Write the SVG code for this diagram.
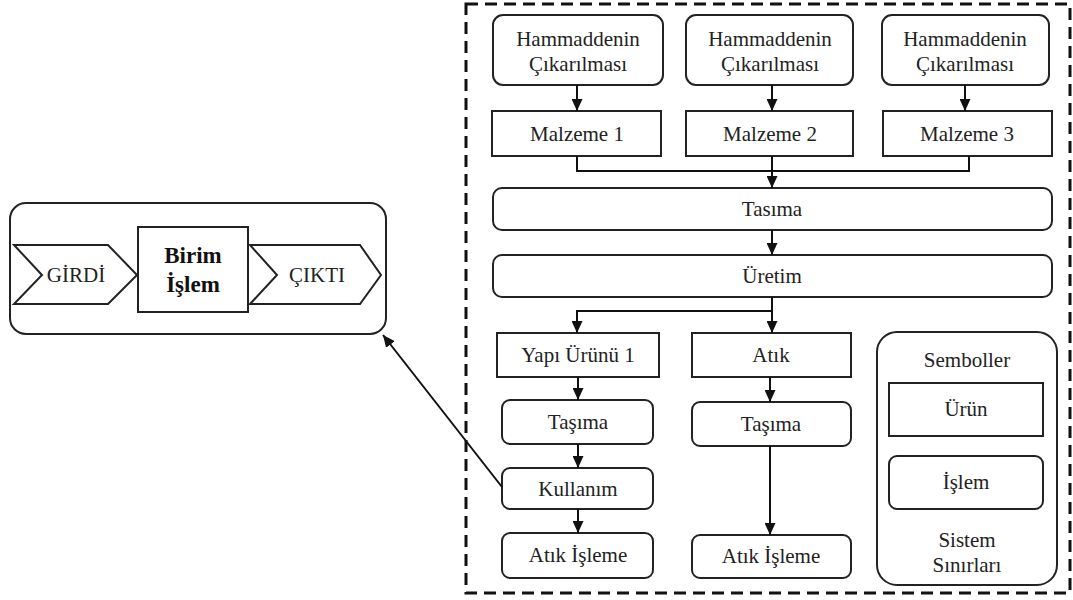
<svg xmlns="http://www.w3.org/2000/svg" width="1073" height="600" viewBox="0 0 1073 600" font-family="'Liberation Serif', 'DejaVu Serif', serif">
  <style>
    .box { fill: #fff; stroke: #222; stroke-width: 2; }
    .wire { fill: none; stroke: #111; stroke-width: 2; }
    text { font-family: 'Liberation Serif', 'DejaVu Serif', serif; font-size: 21px; fill: #222; text-anchor: middle; }
    text.bold { font-weight: bold; font-size: 23px; fill: #111; }
  </style>
  <defs>
    <marker id="arrow" viewBox="0 0 12 11" refX="12" refY="5.5" markerWidth="12" markerHeight="11" markerUnits="userSpaceOnUse" orient="auto">
      <path d="M0,0 L12,5.5 L0,11 Z" fill="#111"/>
    </marker>
  </defs>
  <rect width="1073" height="600" fill="#fff"/>

  <!-- unit process summary -->
  <g id="unit-process">
    <rect class="box" x="10" y="203" width="376" height="131" rx="16"/>
    <g id="girdi">
      <path class="box" d="M14,245 L108,245 L137,275 L108,304 L14,304 L42,275 Z"/>
      <text x="76" y="282">GİRDİ</text>
    </g>
    <g id="birim-islem">
      <rect class="box" x="138" y="227" width="110" height="85"/>
      <text class="bold" x="193" y="263">Birim</text>
      <text class="bold" x="193" y="292">İşlem</text>
    </g>
    <g id="cikti">
      <path class="box" d="M250,245 L360,245 L381,275 L360,304 L250,304 L277,275 Z"/>
      <text x="317" y="282">ÇIKTI</text>
    </g>
  </g>

  <!-- system boundary -->
  <rect id="system-boundary" x="466" y="4" width="604" height="589" fill="none" stroke="#111" stroke-width="3" stroke-dasharray="12 7"/>

  <!-- raw material extraction -->
  <g id="extract-1">
    <rect class="box" x="493" y="15" width="170" height="70" rx="10"/>
    <text x="578" y="46">Hammaddenin</text>
    <text x="578" y="71">Çıkarılması</text>
  </g>
  <g id="extract-2">
    <rect class="box" x="686" y="15" width="167" height="70" rx="10"/>
    <text x="770" y="46">Hammaddenin</text>
    <text x="770" y="71">Çıkarılması</text>
  </g>
  <g id="extract-3">
    <rect class="box" x="882" y="15" width="167" height="70" rx="10"/>
    <text x="965" y="46">Hammaddenin</text>
    <text x="965" y="71">Çıkarılması</text>
  </g>

  <!-- materials -->
  <g id="material-1">
    <rect class="box" x="492" y="111" width="169" height="45"/>
    <text x="577" y="141">Malzeme 1</text>
  </g>
  <g id="material-2">
    <rect class="box" x="686" y="111" width="167" height="45"/>
    <text x="770" y="141">Malzeme 2</text>
  </g>
  <g id="material-3">
    <rect class="box" x="883" y="111" width="169" height="45"/>
    <text x="967" y="141">Malzeme 3</text>
  </g>

  <g id="transport-main">
    <rect class="box" x="493" y="188" width="559" height="42" rx="9"/>
    <text x="772" y="216">Tasıma</text>
  </g>
  <g id="production">
    <rect class="box" x="493" y="255" width="559" height="42" rx="9"/>
    <text x="772" y="283">Üretim</text>
  </g>

  <!-- product branch -->
  <g id="product-1">
    <rect class="box" x="497" y="333" width="162" height="44"/>
    <text x="578" y="362">Yapı Ürünü 1</text>
  </g>
  <g id="transport-product">
    <rect class="box" x="502" y="400" width="151" height="44" rx="8"/>
    <text x="578" y="429">Taşıma</text>
  </g>
  <g id="use">
    <rect class="box" x="502" y="468" width="151" height="41" rx="8"/>
    <text x="578" y="496">Kullanım</text>
  </g>
  <g id="waste-treatment-1">
    <rect class="box" x="502" y="533" width="151" height="45" rx="8"/>
    <text x="578" y="562">Atık İşleme</text>
  </g>

  <!-- waste branch -->
  <g id="waste">
    <rect class="box" x="692" y="333" width="159" height="44"/>
    <text x="771" y="362">Atık</text>
  </g>
  <g id="transport-waste">
    <rect class="box" x="692" y="402" width="159" height="44" rx="8"/>
    <text x="771" y="431">Taşıma</text>
  </g>
  <g id="waste-treatment-2">
    <rect class="box" x="692" y="535" width="159" height="43" rx="8"/>
    <text x="771" y="563">Atık İşleme</text>
  </g>

  <!-- legend -->
  <g id="legend">
    <rect class="box" x="877" y="332" width="180" height="253" rx="20"/>
    <text x="967" y="367">Semboller</text>
    <rect class="box" x="889" y="383" width="154" height="53"/>
    <text x="966" y="416">Ürün</text>
    <rect class="box" x="889" y="456" width="154" height="53" rx="8"/>
    <text x="966" y="489">İşlem</text>
    <text x="967" y="547">Sistem</text>
    <text x="967" y="572">Sınırları</text>
  </g>

  <!-- connectors -->
  <g id="connectors">
    <line class="wire" x1="577" y1="85" x2="577" y2="111" marker-end="url(#arrow)"/>
    <line class="wire" x1="772" y1="85" x2="772" y2="111" marker-end="url(#arrow)"/>
    <line class="wire" x1="965" y1="85" x2="965" y2="111" marker-end="url(#arrow)"/>
    <polyline class="wire" points="577,156 577,171 969,171 969,156"/>
    <line class="wire" x1="772" y1="156" x2="772" y2="188" marker-end="url(#arrow)"/>
    <line class="wire" x1="772" y1="230" x2="772" y2="255" marker-end="url(#arrow)"/>
    <line class="wire" x1="772" y1="297" x2="772" y2="333" marker-end="url(#arrow)"/>
    <polyline class="wire" points="772,311 577,311 577,333" marker-end="url(#arrow)"/>
    <line class="wire" x1="578" y1="377" x2="578" y2="400" marker-end="url(#arrow)"/>
    <line class="wire" x1="578" y1="444" x2="578" y2="468" marker-end="url(#arrow)"/>
    <line class="wire" x1="578" y1="509" x2="578" y2="533" marker-end="url(#arrow)"/>
    <line class="wire" x1="770" y1="377" x2="770" y2="402" marker-end="url(#arrow)"/>
    <line class="wire" x1="770" y1="446" x2="770" y2="535" marker-end="url(#arrow)"/>
    <line class="wire" x1="502" y1="487" x2="383" y2="335" marker-end="url(#arrow)"/>
  </g>
</svg>
